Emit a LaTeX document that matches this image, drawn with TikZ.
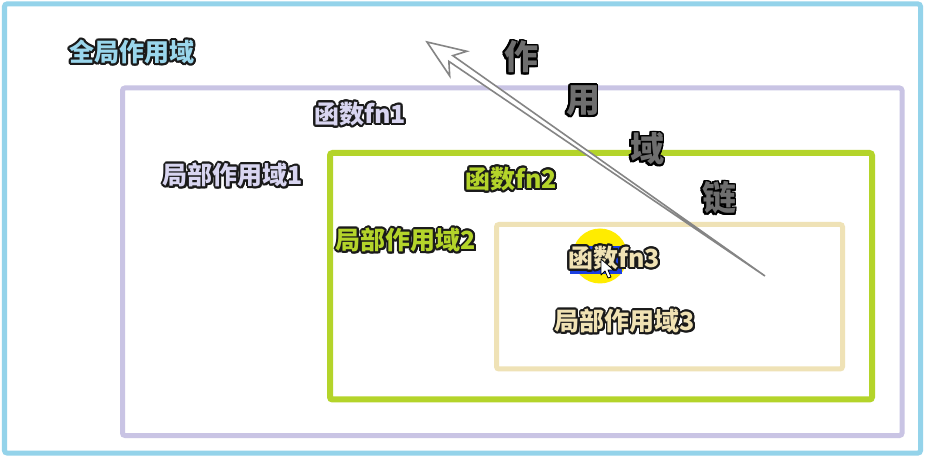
\documentclass[tikz,border=0pt]{standalone}
\usepackage{fontspec}
\setmainfont{Noto Sans CJK SC}
\usepackage{contour}
\contourlength{1.9pt}
\contournumber{20}
\usetikzlibrary{calc}
\definecolor{cblue}{HTML}{94D3EA}
\definecolor{cpurple}{HTML}{C9C4E4}
\definecolor{cgreen}{HTML}{B4D42A}
\definecolor{cbeige}{HTML}{EFE2B6}
\definecolor{tblue}{HTML}{9AD6EC}
\definecolor{tpurple}{HTML}{D8D5F0}
\definecolor{tbeige}{HTML}{F0E2B4}
\definecolor{olc}{HTML}{1A1A1A}
\definecolor{cgray}{HTML}{6E6E6E}
\definecolor{agray}{HTML}{858585}
\definecolor{hl}{HTML}{1B3FE0}
\definecolor{cyel}{HTML}{FFEC00}
\begin{document}
\begin{tikzpicture}[x=1bp,y=-1bp,
  box/.style={rounded corners=2.5bp,line width=5bp},
  lab/.style={font=\fontsize{25bp}{29bp}\selectfont\bfseries,inner sep=0pt},
  big/.style={font=\fontsize{34bp}{38bp}\selectfont\bfseries,inner sep=0pt,text=cgray}]
\useasboundingbox (0,0) rectangle (927,458);
\fill[white] (0,0) rectangle (927,458);
% boxes
\draw[box,cblue] (4.5,4) rectangle (920.5,453);
\draw[box,cpurple] (122.5,88) rectangle (902,435.5);
\draw[box,cgreen,line width=6bp] (330,153) rectangle (872,399.5);
\draw[box,cbeige] (496.5,224.5) rectangle (842.5,369);
% highlight of fn3
\fill[cyel] (600,256) circle (27.5);
\fill[hl] (570,246) rectangle (622,274);
% labels
\node[lab,text=tblue] (global) at (132,53) {\contour{olc}{全局作用域}};
\node[lab,text=tpurple] (fn1) at (360,115) {\contour{olc}{函数fn1}};
\node[lab,text=tpurple] (local1) at (233,176) {\contour{olc}{局部作用域1}};
\node[lab,text=cgreen] (fn2) at (511,180) {\contour{olc}{函数fn2}};
\node[lab,text=cgreen] (local2) at (406,241) {\contour{olc}{局部作用域2}};
\node[lab,text=tbeige] (fn3) at (614,259) {\contour{olc}{函数fn3}};
\node[lab,text=tbeige] (local3) at (625,322) {\contour{olc}{局部作用域3}};
% cursor
\draw[fill=white,draw=black,line width=0.8bp,line join=round]
  (601,259) -- (601,275) -- (605,271) -- (608,278) -- (611,277) -- (608,270) -- (613.5,270) -- cycle;
% chain characters
\node[big] (c1) at (521,58) {\contour{black}{作}};
\node[big] (c2) at (583,102) {\contour{black}{用}};
\node[big] (c3) at (647,150) {\contour{black}{域}};
\node[big] (c4) at (719,199) {\contour{black}{链}};
% scope-chain arrow
\coordinate (tip) at (427,42);
\coordinate (tail) at (765,276);
\coordinate (hb) at ($(tip)!38bp!(tail)$);
\coordinate (hj) at ($(tip)!29bp!(tail)$);
\coordinate (b1) at ($(hb)!15bp!90:(tail)$);
\coordinate (b2) at ($(hb)!15bp!-90:(tail)$);
\coordinate (j1) at ($(hj)!3.5bp!90:(tail)$);
\coordinate (j2) at ($(hj)!3.5bp!-90:(tail)$);
\draw[agray,fill=white,line width=1.6bp,line join=miter]
  (tip) -- (b1) -- (j1) -- (tail) -- (j2) -- (b2) -- cycle;
\end{tikzpicture}
\end{document}
